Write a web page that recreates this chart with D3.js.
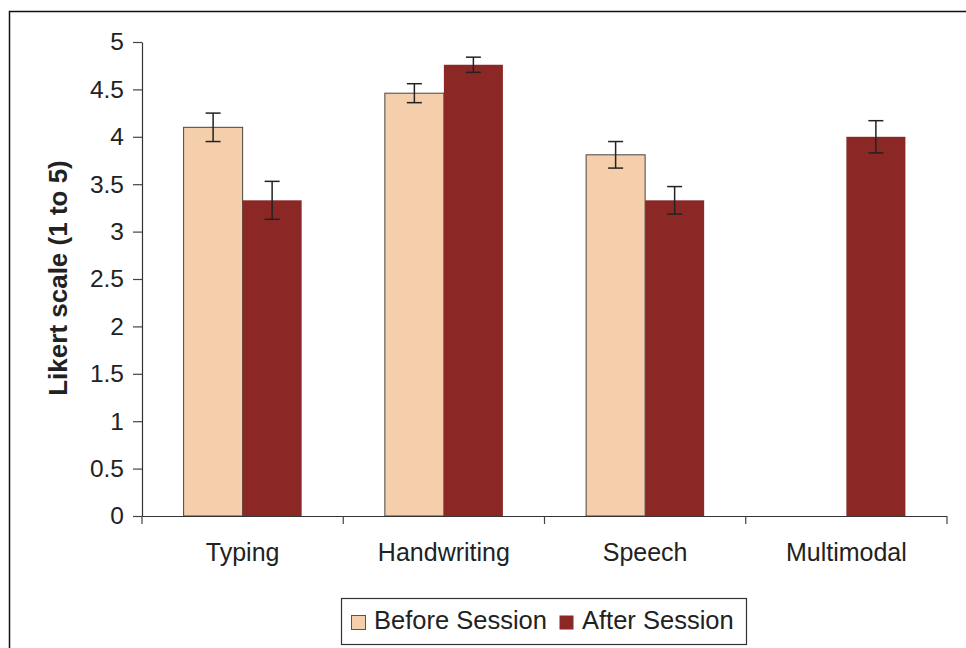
<!DOCTYPE html>
<html>
<head>
<meta charset="utf-8">
<script src="https://cdn.jsdelivr.net/npm/d3@7"></script>
<style>
  body { margin: 0; background: #fff; }
  svg { display: block; font-family: Arial, "Liberation Sans", Helvetica, sans-serif; }
</style>
</head>
<body>
<svg id="chart" width="966" height="648"></svg>
<script>
const categories = ["Typing", "Handwriting", "Speech", "Multimodal"];
const seriesNames = ["Before Session", "After Session"];
const beforeValues = [4.10, 4.46, 3.81, null];
const beforeErrors = [0.15, 0.10, 0.14, null];
const afterValues = [3.33, 4.76, 3.33, 4.00];
const afterErrors = [0.20, 0.08, 0.145, 0.17];
const yTicks = [0, 0.5, 1, 1.5, 2, 2.5, 3, 3.5, 4, 4.5, 5];
const yTickLabels = ["0", "0.5", "1", "1.5", "2", "2.5", "3", "3.5", "4", "4.5", "5"];
const colors = ["#F5CFAB", "#8B2826"];

(function () {
const svg = d3.select("#chart");

// outer frame (left/top edges visible)
svg.append("path")
  .attr("d", "M9.5,700 L9.5,11.5 L1000,11.5")
  .attr("fill", "none").attr("stroke", "#111").attr("stroke-width", 1.5);

const pLeft = 142, pRight = 947, pTop = 42, pBottom = 516;
const x0 = d3.scaleBand().domain(categories).range([pLeft, pRight]).padding(0);
const x1 = d3.scaleBand().domain(seriesNames).range([0, x0.bandwidth()])
  .paddingInner(0).paddingOuter(0.705);
const y = d3.scaleLinear().domain([0, 5]).range([pBottom, pTop]);

const rows = categories.map((c, i) => ({
  cat: c,
  vals: [
    { s: seriesNames[0], v: beforeValues[i], e: beforeErrors[i], k: 0 },
    { s: seriesNames[1], v: afterValues[i], e: afterErrors[i], k: 1 }
  ].filter(d => d.v !== null)
}));

// bars
const g = svg.append("g");
rows.forEach(r => {
  r.vals.forEach(d => {
    const bx = x0(r.cat) + x1(d.s);
    g.append("rect")
      .attr("x", bx).attr("y", y(d.v))
      .attr("width", x1.bandwidth()).attr("height", y(0) - y(d.v))
      .attr("fill", colors[d.k])
      .attr("stroke", d.k === 0 ? "#444" : "none")
      .attr("stroke-width", 1);
  });
});

// error bars
rows.forEach(r => {
  r.vals.forEach(d => {
    const cx = x0(r.cat) + x1(d.s) + x1.bandwidth() / 2;
    const eg = g.append("g").attr("stroke", "#222").attr("stroke-width", 1.5);
    eg.append("line").attr("x1", cx).attr("x2", cx).attr("y1", y(d.v + d.e)).attr("y2", y(d.v - d.e));
    eg.append("line").attr("x1", cx - 7.5).attr("x2", cx + 7.5).attr("y1", y(d.v + d.e)).attr("y2", y(d.v + d.e));
    eg.append("line").attr("x1", cx - 7.5).attr("x2", cx + 7.5).attr("y1", y(d.v - d.e)).attr("y2", y(d.v - d.e));
  });
});

// y axis
const yAxis = d3.axisLeft(y).tickValues(yTicks)
  .tickFormat((d, i) => yTickLabels[i]).tickSizeOuter(0).tickSizeInner(9).tickPadding(9);
const yg = svg.append("g").attr("transform", `translate(${pLeft},0)`).call(yAxis);
yg.select(".domain").attr("stroke", "#333").attr("stroke-width", 1.2);
yg.selectAll(".tick line").attr("stroke", "#444").attr("stroke-width", 1.2);
yg.selectAll(".tick text").attr("font-size", 24.5).attr("fill", "#222")
  .attr("font-family", "Arial, 'Liberation Sans', sans-serif");

// x axis
const boundaries = categories.map(c => x0(c)).concat([pRight]);
const xg = svg.append("g");
xg.append("line").attr("x1", pLeft).attr("x2", pRight).attr("y1", pBottom + 0.5).attr("y2", pBottom + 0.5)
  .attr("stroke", "#333").attr("stroke-width", 1.2);
xg.selectAll(".xt").data(boundaries).enter().append("line")
  .attr("x1", d => d).attr("x2", d => d)
  .attr("y1", pBottom).attr("y2", pBottom + 8)
  .attr("stroke", "#444").attr("stroke-width", 1.2);
xg.selectAll(".xl").data(categories).enter().append("text")
  .attr("x", d => x0(d) + x0.bandwidth() / 2)
  .attr("y", 561)
  .attr("text-anchor", "middle")
  .attr("font-size", 25).attr("fill", "#222")
  .text(d => d);

// y title
svg.append("text")
  .attr("transform", "translate(67,278) rotate(-90)")
  .attr("text-anchor", "middle")
  .attr("font-size", 26).attr("font-weight", "bold").attr("fill", "#222")
  .text("Likert scale (1 to 5)");

// legend
const lg = svg.append("g");
lg.append("rect").attr("x", 341.5).attr("y", 598.5).attr("width", 405).attr("height", 46)
  .attr("fill", "#fff").attr("stroke", "#333").attr("stroke-width", 1.2);
const legendItems = [
  { name: seriesNames[0], sx: 351, tx: 374, k: 0 },
  { name: seriesNames[1], sx: 559, tx: 582, k: 1 }
];
legendItems.forEach(it => {
  lg.append("rect").attr("x", it.sx + 0.5).attr("y", 615.5).attr("width", 14).attr("height", 14)
    .attr("fill", colors[it.k]).attr("stroke", it.k === 0 ? "#555" : "none").attr("stroke-width", 1);
  lg.append("text").attr("x", it.tx).attr("y", 629).attr("font-size", 25.5).attr("fill", "#222").text(it.name);
});
})();
</script>
</body>
</html>
